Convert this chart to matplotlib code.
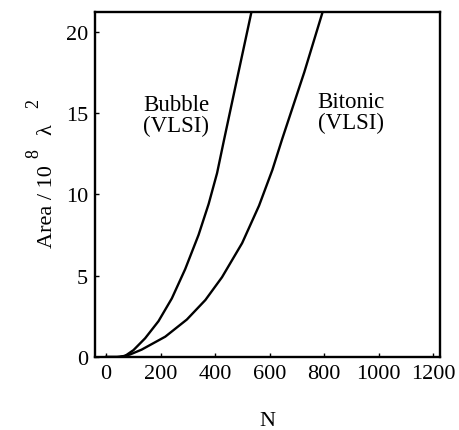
import matplotlib
matplotlib.use("Agg")
import matplotlib.pyplot as plt

# Values (N vs area in units of 10^8 lambda^2)
bubble_n = [0, 40, 69, 100, 143, 192, 241, 290, 339, 376, 407, 432, 483, 535]
bubble_area = [0.0, 0.0, 0.06, 0.42, 1.15, 2.2, 3.6, 5.4, 7.5, 9.4, 11.3, 13.3, 17.3, 21.35]

bitonic_n = [0, 50, 87, 130, 217, 296, 364, 425, 499, 561, 610, 646, 727, 797]
bitonic_area = [0.0, 0.0, 0.15, 0.45, 1.25, 2.3, 3.5, 4.9, 7.0, 9.3, 11.5, 13.4, 17.5, 21.35]

x_ticks = [0, 200, 400, 600, 800, 1000, 1200]
y_ticks = [0, 5, 10, 15, 20]

plt.rcParams["font.family"] = ["Liberation Serif", "DejaVu Serif"]
plt.rcParams["mathtext.fontset"] = "stix"

W, H = 460, 431
fig = plt.figure(figsize=(W / 100, H / 100), dpi=100)
ax = fig.add_axes([0.2065, 0.1694, 0.75, 0.8004])

ax.plot(bubble_n, bubble_area, color="black", lw=1.7)
ax.plot(bitonic_n, bitonic_area, color="black", lw=1.7)

ax.set_xlim(-41, 1225)
ax.set_ylim(0, 21.2)
ax.set_xticks(x_ticks)
ax.set_yticks(y_ticks)
ax.tick_params(direction="in", length=3, width=1, labelsize=16, pad=5)

for s in ax.spines.values():
    s.set_linewidth(1.7)

ax.set_xlabel("N", fontsize=16, labelpad=20)

# y label built in pieces so the raised exponents sit like the original
fig.text(47 / W, 1 - 207 / H, "Area / 10", rotation=90, fontsize=16,
         ha="center", va="center")
fig.text(34 / W, 1 - 154 / H, "8", rotation=90, fontsize=13,
         ha="center", va="center")
fig.text(47 / W, 1 - 130 / H, "λ", rotation=90, fontsize=16,
         ha="center", va="center")
fig.text(34 / W, 1 - 104 / H, "2", rotation=90, fontsize=13,
         ha="center", va="center")

ax.text(258, 14.85, "Bubble\n(VLSI)", fontsize=16.5, ha="center", va="center",
        linespacing=1.0)
ax.text(897, 15.06, "Bitonic\n(VLSI)", fontsize=16.5, ha="center", va="center",
        linespacing=1.0)

fig.savefig("out.png", dpi=100)
